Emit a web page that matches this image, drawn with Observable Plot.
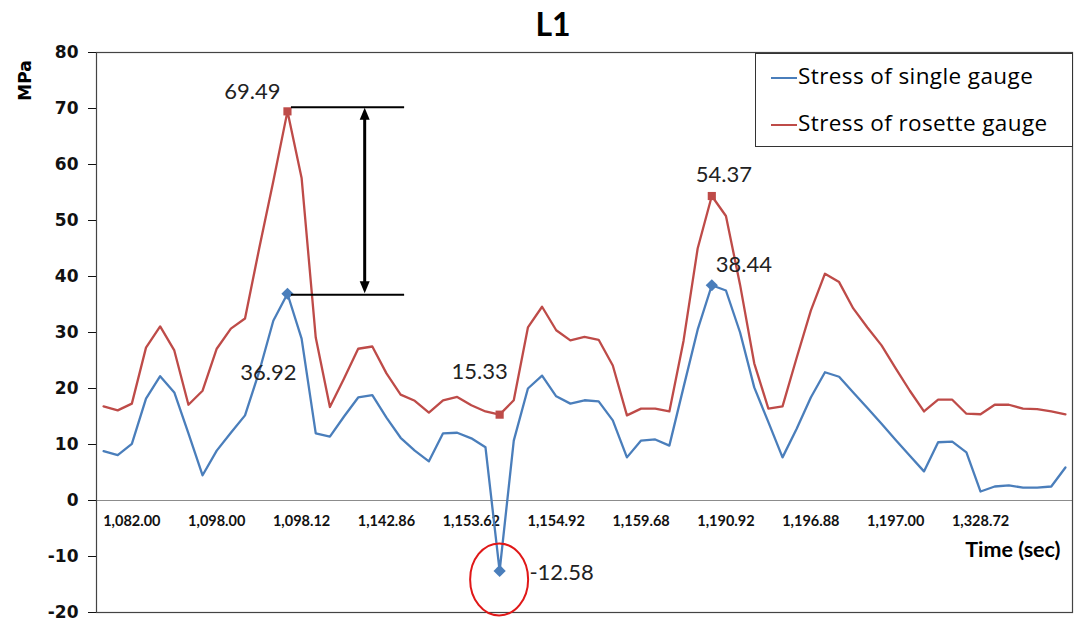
<!DOCTYPE html>
<html><head><meta charset="utf-8">
<script src="https://cdn.jsdelivr.net/npm/d3@7"></script>
<script src="https://cdn.jsdelivr.net/npm/@observablehq/plot@0.6"></script>
<style>
body{margin:0;background:#fff;}
#wrap{position:relative;width:1074px;height:622px;overflow:hidden;}
#title{height:46px;position:relative;}
#title span{position:absolute;left:0;width:1106px;top:5px;text-align:center;font:bold 32px Lato;line-height:38px;color:#000;}
#legend{position:absolute;left:755px;top:53px;width:316px;height:92px;border:1.5px solid #333;background:#fff;font:22.5px "Open Sans";letter-spacing:0.4px;color:#000;}
#legend .row{position:absolute;left:15px;height:30px;line-height:30px;white-space:nowrap;}
#legend .sw{display:inline-block;width:26px;height:2px;vertical-align:middle;margin-right:1px;}
svg{overflow:visible;}
</style></head>
<body>
<div id="wrap">
  <div id="title"><span>L1</span></div>
  <div id="legend">
    <div class="row" style="top:7px"><span class="sw" style="background:#4A7EBB"></span>Stress of single gauge</div>
    <div class="row" style="top:54px"><span class="sw" style="background:#BE4B48"></span>Stress of rosette gauge</div>
  </div>
</div>
<script>
// Category labels (time, sec) shown on the category axis
const xLabels = ["1,082.00","1,098.00","1,098.12","1,142.86","1,153.62","1,154.92","1,159.68","1,190.92","1,196.88","1,197.00","1,328.72"];
// Stress of single gauge (MPa)
const single = [8.8, 8.1, 10.1, 18.2, 22.2, 19.3, 12.0, 4.5, 8.9, 12.1,
  15.2, 23.0, 32.1, 36.92, 28.9, 12.0, 11.4, 15.0, 18.4, 18.8,
  14.8, 11.2, 8.9, 7.0, 12.0, 12.1, 11.1, 9.5, -12.58, 10.7,
  20.0, 22.3, 18.6, 17.3, 17.9, 17.7, 14.3, 7.7, 10.7, 10.9,
  9.8, 20.2, 30.5, 38.44, 37.5, 30.0, 20.2, 14.0, 7.7, 12.8,
  18.4, 22.9, 22.1, 19.3, 16.5, 13.7, 10.8, 8.0, 5.2, 10.4,
  10.5, 8.6, 1.6, 2.5, 2.7, 2.3, 2.3, 2.5, 5.9];
// Stress of rosette gauge (MPa)
const rosette = [16.8, 16.1, 17.3, 27.3, 31.1, 26.8, 17.1, 19.6, 27.1, 30.7,
  32.5, 45.0, 57.0, 69.49, 57.6, 29.1, 16.7, 21.8, 27.1, 27.5,
  22.7, 18.9, 17.8, 15.7, 17.9, 18.5, 17.0, 15.9, 15.33, 17.9,
  30.9, 34.6, 30.4, 28.6, 29.2, 28.7, 24.1, 15.2, 16.4, 16.4,
  15.9, 28.5, 45.0, 54.37, 50.8, 38.5, 24.5, 16.4, 16.8, 25.5,
  33.9, 40.5, 39.0, 34.3, 30.9, 27.7, 23.6, 19.6, 15.9, 18.0,
  18.0, 15.5, 15.4, 17.1, 17.1, 16.4, 16.3, 15.9, 15.4];
const yTicks = [-20, -10, 0, 10, 20, 30, 40, 50, 60, 70, 80];
// highlighted points (category index)
const highlightIdx = [13, 28, 43];
const labelStep = 6, labelStart = 2;

const BLUE = "#4A7EBB", RED = "#BE4B48";
const rows = single.map((v, i) => ({i, single: v, rosette: rosette[i]}));
const hl = highlightIdx.map(i => rows[i]);

// label layout offsets (px) for the data labels
const labelLayout = [
  {i: 13, key: "rosette", dx: -35, dy: -19},
  {i: 13, key: "single", dx: -19, dy: 79},
  {i: 28, key: "rosette", dx: -20, dy: -43},
  {i: 28, key: "single", dx: 62, dy: 2},
  {i: 43, key: "rosette", dx: 12, dy: -21},
  {i: 43, key: "single", dx: 32, dy: -20}
];

const marks = [
  Plot.ruleY([0], {stroke: "#8c8c8c", strokeWidth: 1}),
  Plot.frame({stroke: "#444", strokeWidth: 1.2}),
  Plot.axisY({ticks: yTicks, tickSize: 8, tickPadding: 10, fontWeight: "bold", fontSize: 17,
    fontFamily: "DejaVu Sans", color: "#111", tickFormat: d => String(d)}),
  Plot.text(xLabels, {x: (d, k) => labelStart + labelStep * k, y: () => 0, dy: 21, text: d => d,
    fontWeight: "bold", fontSize: 14.5, fill: "#111"}),
  Plot.text(["Time (sec)"], {frameAnchor: "bottom-right", dx: -12, dy: -56, textAnchor: "end",
    fontWeight: "bold", fontSize: 21.5, fill: "#000"}),
  Plot.text(["MPa"], {frameAnchor: "top-left", dx: -78, dy: 28, rotate: -90, textAnchor: "middle",
    fontWeight: "bold", fontSize: 17, fontFamily: "DejaVu Sans", fill: "#000"}),
  Plot.line(rows, {x: "i", y: "single", stroke: BLUE, strokeWidth: 2.3}),
  Plot.line(rows, {x: "i", y: "rosette", stroke: RED, strokeWidth: 2.3}),
  Plot.dot(hl, {x: "i", y: "single", symbol: "diamond2", r: 5.5, fill: BLUE}),
  Plot.dot(hl, {x: "i", y: "rosette", symbol: "square", r: 4.6, fill: RED}),
  Plot.ruleY([rosette[13]], {x1: 13, x2: 21, dx: 4, dy: -4, stroke: "#000", strokeWidth: 2}),
  Plot.ruleY([single[13]], {x1: 13, x2: 21, dx: 4, dy: 1, stroke: "#000", strokeWidth: 2})
];
for (const L of labelLayout) {
  const v = rows[L.i][L.key];
  marks.push(Plot.text([v], {x: () => L.i, y: d => d, text: d => d.toFixed(2), dx: L.dx, dy: L.dy,
    fontSize: 22, fill: "#222"}));
}

const plot = Plot.plot({
  width: 1074, height: 576,
  marginLeft: 96, marginRight: 2, marginTop: 6, marginBottom: 10,
  style: {fontFamily: "Lato", background: "transparent", overflow: "visible"},
  x: {domain: [-0.5, single.length - 0.5], axis: null},
  y: {domain: [-20, 80], axis: null},
  marks
});
document.getElementById("wrap").insertBefore(plot, document.getElementById("legend"));

// double-headed arrow and red ellipse annotations
const sx = plot.scale("x"), sy = plot.scale("y");
const svg = d3.select(plot);
const ax = sx.apply(18) + 7, aTop = sy.apply(rosette[13]) - 4, aBot = sy.apply(single[13]) + 1;
svg.append("line").attr("x1", ax).attr("x2", ax).attr("y1", aTop + 10).attr("y2", aBot - 10)
  .attr("stroke", "#000").attr("stroke-width", 3);
svg.append("path").attr("d", `M${ax},${aTop + 1}L${ax - 5},${aTop + 13}L${ax + 5},${aTop + 13}Z`).attr("fill", "#000");
svg.append("path").attr("d", `M${ax},${aBot - 1}L${ax - 5},${aBot - 13}L${ax + 5},${aBot - 13}Z`).attr("fill", "#000");
svg.append("ellipse").attr("cx", sx.apply(28)).attr("cy", sy.apply(single[28]) + 9)
  .attr("rx", 29).attr("ry", 36).attr("fill", "none").attr("stroke", "#E01818").attr("stroke-width", 2);
</script>
</body></html>
